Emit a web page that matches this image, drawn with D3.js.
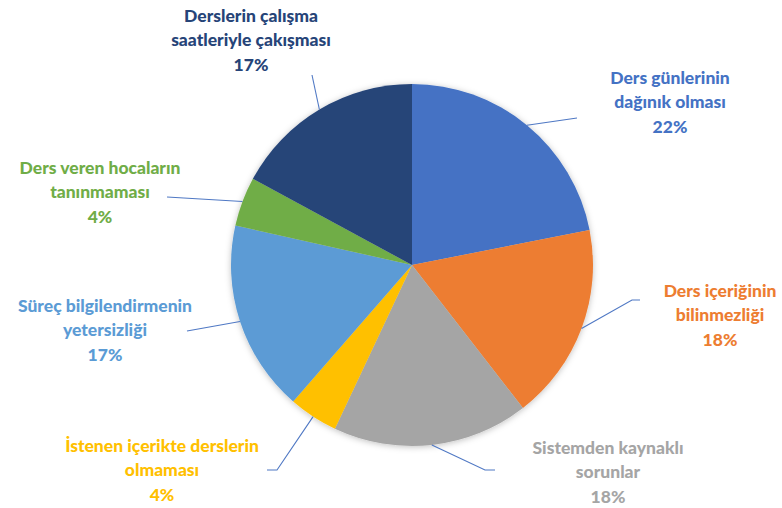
<!DOCTYPE html>
<html>
<head>
<meta charset="utf-8">
<script src="https://cdn.jsdelivr.net/npm/d3@7"></script>
<style>
  html, body { margin: 0; padding: 0; background: #fff; }
  svg { display: block; }
</style>
</head>
<body>
<svg id="chart"></svg>
<script>
// data
const categories = [
  ["Ders günlerinin", "dağınık olması"],
  ["Ders içeriğinin", "bilinmezliği"],
  ["Sistemden kaynaklı", "sorunlar"],
  ["İstenen içerikte derslerin", "olmaması"],
  ["Süreç bilgilendirmenin", "yetersizliği"],
  ["Ders veren hocaların", "tanınmaması"],
  ["Derslerin çalışma", "saatleriyle çakışması"]
];
const values = [21.9, 17.6, 17.5, 4.4, 17.1, 4.4, 17.1];

// styles / layout
const colors = ["#4472C4", "#ED7D31", "#A5A5A5", "#FFC000", "#5B9BD5", "#70AD47", "#264478"];
// label block: center x, center y of first line
const labelPos = [[670, 77], [720, 290], [608, 447], [162, 445], [105, 305], [100, 167], [251, 15]];
// leader line points after the arc edge point
const leaderPts = [
  [[577, 118]],
  [[632, 300], [640, 300]],
  [[485, 470], [495, 470]],
  [[277, 470], [267, 470]],
  [[187, 331]],
  [[167, 197]],
  [[312, 75]]
];

const width = 782, height = 508;
const cx = 412, cy = 265, radius = 181;

const svg = d3.select("#chart").attr("width", width).attr("height", height);

const defs = svg.append("defs");
defs.append("filter").attr("id", "shadow")
  .attr("x", "-10%").attr("y", "-10%").attr("width", "120%").attr("height", "120%")
  .append("feDropShadow")
  .attr("dx", 0).attr("dy", 1).attr("stdDeviation", 3)
  .attr("flood-color", "#000").attr("flood-opacity", 0.25);

const pie = d3.pie().sort(null).value(d => d);
const arcs = pie(values);
const arc = d3.arc().innerRadius(0).outerRadius(radius);

const g = svg.append("g").attr("transform", `translate(${cx},${cy})`);

g.append("g").attr("filter", "url(#shadow)")
  .selectAll("path")
  .data(arcs)
  .enter()
  .append("path")
  .attr("d", arc)
  .attr("fill", (d, i) => colors[i]);

// leader lines
const total = d3.sum(values);
arcs.forEach((d, i) => {
  const a = (d.startAngle + d.endAngle) / 2;
  const start = [cx + radius * Math.sin(a), cy - radius * Math.cos(a)];
  const pts = [start].concat(leaderPts[i]);
  svg.append("path")
    .attr("d", d3.line()(pts))
    .attr("fill", "none")
    .attr("stroke", "#4f78c4")
    .attr("stroke-width", 1.1);
});

// labels
const fmt = v => Math.round(v / total * 100) + "%";
arcs.forEach((d, i) => {
  const lines = categories[i].concat([fmt(values[i])]);
  const t = svg.append("text")
    .attr("x", labelPos[i][0])
    .attr("y", labelPos[i][1])
    .attr("text-anchor", "middle")
    .attr("font-family", "Lato, 'Open Sans', sans-serif")
    .attr("font-weight", 900)
    .attr("font-size", 17.5)
    .attr("fill", colors[i]);
  lines.forEach((s, j) => {
    t.append("tspan")
      .attr("x", labelPos[i][0])
      .attr("y", labelPos[i][1] + j * 24.5)
      .attr("dominant-baseline", "central")
      .text(s);
  });
});
</script>
</body>
</html>
